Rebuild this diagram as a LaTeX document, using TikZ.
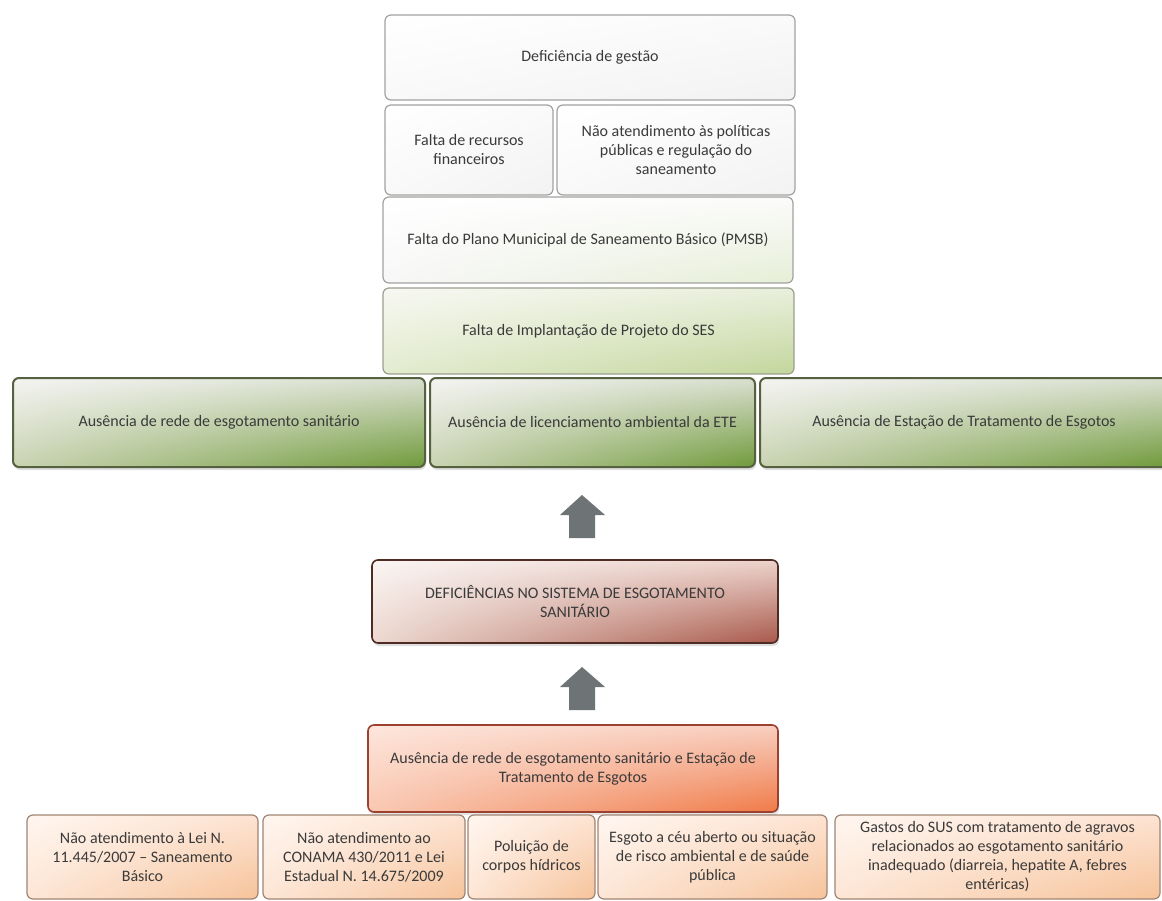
\documentclass[tikz,border=0pt]{standalone}
\usepackage{fontspec}
\setmainfont{Carlito}
\usetikzlibrary{shadows,shadings}

\definecolor{txt}{HTML}{3A3A3A}
\definecolor{greyedge}{HTML}{A2A2A0}
\definecolor{greenedge}{HTML}{56613F}
\definecolor{brownedge}{HTML}{4E2C24}
\definecolor{rededge}{HTML}{9C4030}
\definecolor{peachedge}{HTML}{A08574}
\definecolor{arrowgray}{HTML}{6E7475}
% gradient stops
\definecolor{pgA}{HTML}{E6EED6}
\definecolor{lgA}{HTML}{F7F8F2}
\definecolor{lgB}{HTML}{E9EFDC}
\definecolor{lgC}{HTML}{E3EBCF}
\definecolor{lgD}{HTML}{C3D69C}
\definecolor{lgEdge}{HTML}{9AA08E}
\definecolor{gA}{HTML}{F4F4F2}
\definecolor{gB}{HTML}{DADFD0}
\definecolor{gC}{HTML}{C9D3B2}
\definecolor{gD}{HTML}{6F9A3A}
\definecolor{bA}{HTML}{FAF5F3}
\definecolor{bB}{HTML}{ECD2CB}
\definecolor{bC}{HTML}{ECD8D0}
\definecolor{bD}{HTML}{A8584A}
\definecolor{rA}{HTML}{FDE6DC}
\definecolor{rB}{HTML}{F8CFC0}
\definecolor{rC}{HTML}{F9C8B2}
\definecolor{rD}{HTML}{F07A48}
\definecolor{pA}{HTML}{FFF6F0}
\definecolor{pB}{HTML}{FDE3D2}
\definecolor{pC}{HTML}{FDE6D6}
\definecolor{pD}{HTML}{F6C39A}

\tikzset{
  base/.style={rounded corners=6pt, align=center, inner sep=2pt,
    font=\fontsize{16}{19}\selectfont, text=txt, line width=1.2pt},
  greybox/.style={base, draw=greyedge,
    upper left=white, upper right=white!96!gray,
    lower left=white!95!gray, lower right=white!90!gray},
  palegreen/.style={base, draw=greyedge,
    upper left=white, upper right=white!97!gray,
    lower left=white!94!gray, lower right=pgA},
  lightgreen/.style={base, draw=lgEdge,
    upper left=lgA, upper right=lgB, lower left=lgC, lower right=lgD},
  greenbox/.style={base, draw=greenedge, line width=2pt,
    upper left=gA, upper right=gB, lower left=gC, lower right=gD,
    drop shadow={opacity=0.25, shadow xshift=1pt, shadow yshift=-3pt}},
  brownbox/.style={base, draw=brownedge, line width=1.6pt,
    upper left=bA, upper right=bB, lower left=bC, lower right=bD,
    drop shadow={opacity=0.25, shadow xshift=1pt, shadow yshift=-3pt}},
  redbox/.style={base, draw=rededge, line width=1.6pt,
    upper left=rA, upper right=rB, lower left=rC, lower right=rD,
    drop shadow={opacity=0.2, shadow xshift=1pt, shadow yshift=-3pt}},
  peachbox/.style={base, draw=peachedge,
    upper left=pA, upper right=pB, lower left=pC, lower right=pD},
  uparrow/.style={fill=arrowgray}
}

\begin{document}
\begin{tikzpicture}[x=1pt, y=-1pt]
  \useasboundingbox[fill=white] (0,0) rectangle (1162,901);

  % management chain
  \node[greybox, minimum width=410pt, minimum height=85pt] (gestao) at (590,57.5)
    {Deficiência de gestão};
  \node[greybox, minimum width=168pt, minimum height=90pt] (recursos) at (469,150)
    {Falta de recursos\\financeiros};
  \node[greybox, minimum width=238pt, minimum height=90pt] (politicas) at (676,150)
    {Não atendimento às políticas\\públicas e regulação do\\saneamento};
  \node[palegreen, minimum width=410pt, minimum height=86pt] (pmsb) at (588,240)
    {Falta do Plano Municipal de Saneamento Básico (PMSB)};
  \node[lightgreen, minimum width=411pt, minimum height=86pt] (projeto) at (588.5,331)
    {Falta de Implantação de Projeto do SES};

  % missing infrastructure
  \node[greenbox, minimum width=412pt, minimum height=89pt] (rede) at (219,422.5)
    {Ausência de rede de esgotamento sanitário};
  \node[greenbox, minimum width=325pt, minimum height=89pt] (licenca) at (592.5,422.5)
    {Ausência de licenciamento ambiental da ETE};
  \node[greenbox, minimum width=408pt, minimum height=89pt] (ete) at (964,422.5)
    {Ausência de Estação de Tratamento de Esgotos};

  % central problem
  \node[brownbox, minimum width=406pt, minimum height=83pt] (sistema) at (575,601.5)
    {DEFICIÊNCIAS NO SISTEMA DE ESGOTAMENTO\\SANITÁRIO};
  \node[redbox, minimum width=410pt, minimum height=87pt] (ausencia) at (573,768.5)
    {Ausência de rede de esgotamento sanitário e Estação de\\Tratamento de Esgotos};

  % consequences
  \node[peachbox, minimum width=231pt, minimum height=84pt] (lei) at (142.5,857)
    {Não atendimento à Lei N.\\11.445/2007 – Saneamento\\Básico};
  \node[peachbox, minimum width=202pt, minimum height=84pt] (conama) at (364,857)
    {Não atendimento ao\\CONAMA 430/2011 e Lei\\Estadual N. 14.675/2009};
  \node[peachbox, minimum width=127pt, minimum height=84pt] (poluicao) at (531.5,857)
    {Poluição de\\corpos hídricos};
  \node[peachbox, minimum width=229pt, minimum height=84pt] (esgoto) at (712.5,857)
    {Esgoto a céu aberto ou situação\\de risco ambiental e de saúde\\pública};
  \node[peachbox, minimum width=325pt, minimum height=84pt] (sus) at (997.5,857)
    {Gastos do SUS com tratamento de agravos\\relacionados ao esgotamento sanitário\\inadequado (diarreia, hepatite A, febres\\entéricas)};

  % block arrows pointing upward
  \coordinate (a1) at (582,538);
  \coordinate (a2) at (582,710);
  \foreach \c in {a1,a2}{
    \fill[uparrow] (\c) ++(-13,0) -- ++(0,-23) -- ++(-9,0) -- ++(22,-20)
      -- ++(23,20) -- ++(-10,0) -- ++(0,23) -- cycle;
  }
\end{tikzpicture}
\end{document}
